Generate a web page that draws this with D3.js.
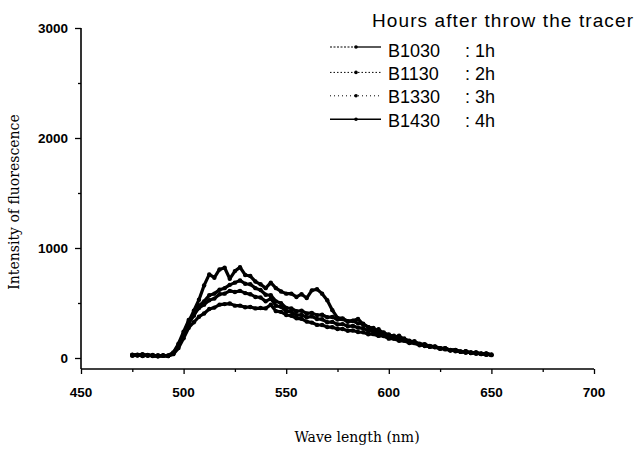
<!DOCTYPE html>
<html>
<head>
<meta charset="utf-8">
<script src="https://cdn.jsdelivr.net/npm/d3@7"></script>
<style>
  body { margin: 0; background: #fff; }
  svg { display: block; }
</style>
</head>
<body>
<svg id="plot" width="639" height="449"></svg>
<script>
// wavelength samples (nm), every 2.5 nm
const wave = [475, 477.5, 480, 482.5, 485, 487.5, 490, 492.5, 495, 497.5,
    500, 502.5, 505, 507.5, 510, 512.5, 515, 517.5, 520, 522.5,
    525, 527.5, 530, 532.5, 535, 537.5, 540, 542.5, 545, 547.5,
    550, 552.5, 555, 557.5, 560, 562.5, 565, 567.5, 570, 572.5,
    575, 577.5, 580, 582.5, 585, 587.5, 590, 592.5, 595, 597.5,
    600, 602.5, 605, 607.5, 610, 612.5, 615, 617.5, 620, 622.5,
    625, 627.5, 630, 632.5, 635, 637.5, 640, 642.5, 645, 647.5, 650];

const b1030 = [28, 22, 30, 25, 18, 25, 20, 24, 50, 130,
    240, 345, 395, 455, 485, 525, 540, 580, 585, 610,
    600, 610, 590, 580, 555, 550, 515, 540, 475, 465,
    425, 420, 390, 392, 370, 378, 355, 352, 325, 328,
    305, 308, 288, 292, 276, 270, 246, 242, 218, 216,
    190, 188, 168, 166, 144, 144, 122, 121, 104, 103,
    87, 87, 71, 71, 57, 59, 47, 49, 37, 40, 28];

const b1130 = [30, 25, 35, 20, 28, 15, 22, 18, 40, 110,
    220, 330, 430, 530, 660, 760, 730, 805, 820, 720,
    790, 825, 755, 745, 695, 670, 635, 685, 635, 605,
    585, 585, 555, 580, 545, 615, 625, 585, 525, 435,
    365, 360, 335, 340, 355, 305, 280, 245, 262, 218,
    215, 188, 202, 168, 158, 138, 130, 108, 110, 98,
    90, 78, 74, 62, 60, 48, 52, 38, 42, 28, 32];

const b1330 = [25, 30, 20, 28, 22, 18, 25, 20, 45, 120,
    210, 315, 385, 475, 515, 570, 585, 620, 635, 665,
    685, 705, 675, 670, 635, 618, 575, 570, 515, 498,
    455, 450, 425, 430, 405, 410, 390, 393, 370, 373,
    350, 353, 330, 337, 315, 311, 280, 273, 240, 233,
    205, 202, 175, 177, 150, 152, 126, 126, 106, 106,
    86, 90, 71, 74, 56, 61, 46, 50, 36, 40, 26];

const b1430 = [20, 28, 18, 25, 20, 15, 22, 18, 35, 90,
    180, 275, 325, 375, 405, 445, 458, 485, 490, 495,
    476, 476, 461, 464, 451, 454, 451, 484, 426, 419,
    391, 384, 361, 356, 331, 322, 301, 300, 281, 280,
    264, 264, 248, 250, 236, 234, 216, 217, 201, 200,
    176, 175, 156, 156, 136, 135, 116, 117, 101, 100,
    84, 85, 68, 71, 56, 60, 46, 50, 38, 42, 28];

const seriesNames = ["B1030", "B1130", "B1330", "B1430"];
const seriesHours = [": 1h", ": 2h", ": 3h", ": 4h"];
const seriesValues = [b1030, b1130, b1330, b1430];
const legendDash = ["2,1.5,2,1.5", "1.5,2", "1,3", null];

const xTicks = [450, 500, 550, 600, 650, 700];
const yTicks = [0, 1000, 2000, 3000];

const svg = d3.select("#plot");

const x = d3.scaleLinear().domain([450, 700]).range([81, 594]);
const y = d3.scaleLinear().domain([-100, 3000]).range([369, 28]);

const sans = "'Liberation Sans', Arial, sans-serif";
const serif = "'DejaVu Serif', 'Liberation Serif', serif";

// x axis
const xAxis = svg.append("g")
    .attr("transform", "translate(0," + y(-100) + ")")
    .call(d3.axisBottom(x).tickValues(d3.range(450, 701, 25)).tickSize(3).tickFormat(""));
xAxis.selectAll(".tick line").attr("y2", (d) => (d % 50 === 0 ? 5 : 3)).attr("stroke-width", 1.3);
xAxis.selectAll("path").attr("stroke-width", 1.6).attr("d", "M" + x(450) + ",0H" + x(700));

svg.append("g").selectAll("text")
    .data(xTicks)
    .enter()
    .append("text")
    .attr("x", (d) => x(d))
    .attr("y", 397)
    .attr("text-anchor", "middle")
    .attr("font-family", sans)
    .attr("font-size", "13.5px")
    .attr("font-weight", "bold")
    .text((d) => d);

// y axis
const yAxis = svg.append("g")
    .attr("transform", "translate(" + x(450) + ",0)")
    .call(d3.axisLeft(y).tickValues(d3.range(0, 3001, 500)).tickSize(3).tickFormat(""));
yAxis.selectAll(".tick line").attr("x2", (d) => (d % 1000 === 0 ? -6 : -3)).attr("stroke-width", 1.3);
yAxis.selectAll("path").attr("stroke-width", 1.6).attr("d", "M0," + y(3000) + "V" + y(-100));

svg.append("g").selectAll("text")
    .data(yTicks)
    .enter()
    .append("text")
    .attr("x", 68)
    .attr("y", (d) => y(d) + 5)
    .attr("text-anchor", "end")
    .attr("font-family", sans)
    .attr("font-size", "13.5px")
    .attr("font-weight", "bold")
    .text((d) => d);

// axis titles
svg.append("text")
    .attr("transform", "translate(19,202) rotate(-90)")
    .attr("text-anchor", "middle")
    .attr("font-family", serif)
    .attr("font-size", "14px")
    .text("Intensity of fluorescence");

svg.append("text")
    .attr("x", 357)
    .attr("y", 442)
    .attr("text-anchor", "middle")
    .attr("font-family", serif)
    .attr("font-size", "14px")
    .text("Wave length (nm)");

// data lines
const line = d3.line()
    .x((d, i) => x(wave[i]))
    .y((d) => y(d));

seriesValues.forEach(function (vals) {
    svg.append("path")
        .datum(vals)
        .attr("fill", "none")
        .attr("stroke", "#000")
        .attr("stroke-width", 3.2)
        .attr("stroke-linejoin", "round")
        .attr("d", line);
    svg.append("g")
        .selectAll("circle")
        .data(vals)
        .enter()
        .append("circle")
        .attr("cx", (d, i) => x(wave[i]))
        .attr("cy", (d) => y(d))
        .attr("r", 2.2)
        .attr("fill", "#000");
});

// legend
svg.append("text")
    .attr("x", 372)
    .attr("y", 27)
    .attr("font-family", sans)
    .attr("font-size", "19px")
    .attr("letter-spacing", "1.1px")
    .text("Hours after throw the tracer");

const legend = svg.append("g");
seriesNames.forEach(function (name, i) {
    const ly = 50 + i * 23.4;
    if (i === 0) {
        legend.append("line").attr("x1", 330).attr("x2", 356).attr("y1", ly - 3).attr("y2", ly - 3)
            .attr("stroke", "#000").attr("stroke-width", 1).attr("stroke-dasharray", legendDash[i]);
        legend.append("line").attr("x1", 356).attr("x2", 381).attr("y1", ly - 3).attr("y2", ly - 3)
            .attr("stroke", "#000").attr("stroke-width", 1.3);
    } else {
        legend.append("line").attr("x1", 330).attr("x2", 381).attr("y1", ly - 1).attr("y2", ly - 1)
            .attr("stroke", "#000").attr("stroke-width", i === 3 ? 1.4 : 1)
            .attr("stroke-dasharray", legendDash[i]);
    }
    legend.append("circle")
        .attr("cx", 356).attr("cy", i === 0 ? ly - 3 : ly - 1).attr("r", 1.8).attr("fill", "#000");
    legend.append("text")
        .attr("x", 388)
        .attr("y", ly + 6.5)
        .attr("font-family", sans)
        .attr("font-size", "18px")
        .text(name);
    legend.append("text")
        .attr("x", 465)
        .attr("y", ly + 6.5)
        .attr("font-family", sans)
        .attr("font-size", "18px")
        .text(seriesHours[i]);
});
</script>
</body>
</html>
